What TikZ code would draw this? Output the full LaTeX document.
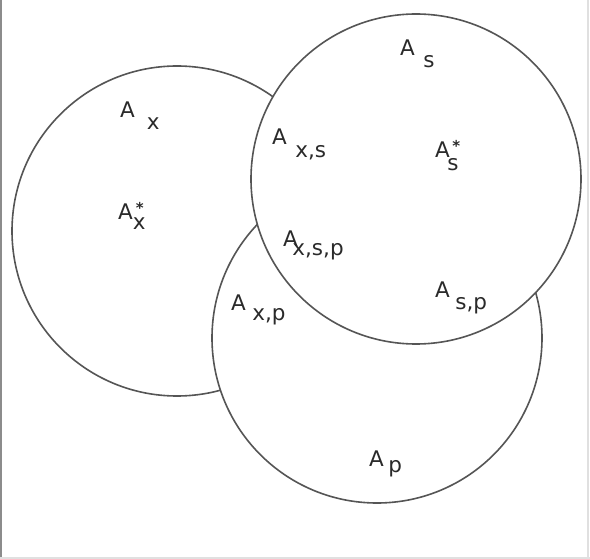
\documentclass[tikz,border=0pt]{standalone}
\usepackage{fontspec}
\setmainfont{DejaVu Sans}
\definecolor{setgray}{HTML}{555555}
\definecolor{labelgray}{HTML}{2A2A2A}
\tikzset{
  setcircle/.style={circle,draw=setgray,fill=white,line width=1.6pt,inner sep=0pt,minimum size=330pt},
  setlabel/.style={anchor=base west,inner sep=0pt,text=labelgray,font=\fontsize{21.5}{24}\selectfont},
  scanedge/.style={line width=1.5pt},
}
% A with a lowered index: gap, drop, index
\newcommand{\Asub}[3]{A\hspace{#1pt}\raisebox{-#2pt}{#3}}
% same, with a star over the index: gap, star shift, drop, index
\newcommand{\Astar}[4]{A\hspace{#1pt}\rlap{\hspace{#2pt}\raisebox{6pt}{\fontsize{15}{15}\selectfont\bfseries *}}\raisebox{-#3pt}{#4}}

\begin{document}
\begin{tikzpicture}[x=1pt,y=-1pt]
  \useasboundingbox (0,0) rectangle (590,559);
  \draw[scanedge,black!45] (1,0) -- (1,559);
  \draw[scanedge,black!12] (0,558) -- (590,558) (588,0) -- (588,559);
  % the three sets
  \node[setcircle] (setx) at (177,231) {};
  \node[setcircle] (setp) at (377,338) {};
  \node[setcircle] (sets) at (416,179) {};
  % labels
  \node[setlabel] (ax) at (120,118) {\Asub{12}{12}{x}};
  \node[setlabel] (axstar) at (118,220) {\Astar{0}{3}{10}{x}};
  \node[setlabel] (as) at (400,56) {\Asub{8.5}{12}{s}};
  \node[setlabel] (axs) at (272,145) {\Asub{8.5}{13}{x,s}};
  \node[setlabel] (asstar) at (435,158) {\Astar{-2.5}{5}{13}{s}};
  \node[setlabel] (axsp) at (283,247) {\Asub{-5.5}{9}{x,s,p}};
  \node[setlabel] (asp) at (435,298) {\Asub{5.5}{12}{s,p}};
  \node[setlabel] (axp) at (231,311) {\Asub{6.5}{10}{x,p}};
  \node[setlabel] (ap) at (369,466) {\Asub{4.5}{6.5}{p}};
\end{tikzpicture}
\end{document}
